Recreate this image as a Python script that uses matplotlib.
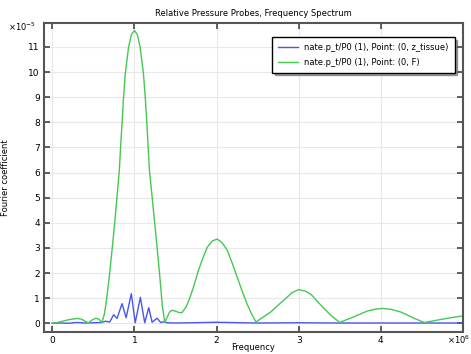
import matplotlib
matplotlib.use("Agg")
import matplotlib.pyplot as plt

# frequency in units of 1e6, coefficient in units of 1e-5
green_freq = [0.00, 0.05, 0.10, 0.15, 0.20, 0.25, 0.31, 0.36, 0.40, 0.44, 0.48, 0.53, 0.57,
              0.605, 0.634, 0.655, 0.695, 0.728, 0.76, 0.789, 0.817, 0.832, 0.85, 0.866, 0.89,
              0.93, 0.965, 1.00, 1.035, 1.07, 1.11, 1.135, 1.152, 1.168, 1.183, 1.216, 1.248,
              1.28, 1.31, 1.338, 1.356, 1.37, 1.40, 1.43, 1.46, 1.50, 1.55, 1.58, 1.63, 1.68,
              1.73, 1.78, 1.84, 1.89, 1.95, 2.01, 2.07, 2.13, 2.19, 2.25, 2.31, 2.37, 2.43,
              2.48, 2.57, 2.66, 2.75, 2.84, 2.92, 3.00, 3.08, 3.15, 3.27, 3.39, 3.50, 3.58,
              3.67, 3.75, 3.84, 3.93, 4.02, 4.13, 4.24, 4.33, 4.41, 4.53, 4.63, 4.73, 4.85,
              4.95, 5.02]
green_coef = [0.00, 0.02, 0.06, 0.10, 0.14, 0.17, 0.19, 0.16, 0.08, 0.01, 0.12, 0.20, 0.16,
              0.03, 0.35, 0.78, 1.85, 2.91, 3.97, 5.03, 6.10, 7.00, 7.95, 8.88, 9.95,
              11.0, 11.5, 11.65, 11.5, 11.0, 9.95, 8.88, 7.95, 7.00, 6.10, 5.03, 3.97,
              2.91, 1.85, 0.78, 0.35, 0.04, 0.25, 0.45, 0.52, 0.48, 0.42, 0.43, 0.65, 1.05,
              1.55, 2.11, 2.65, 3.04, 3.28, 3.35, 3.20, 2.91, 2.40, 1.85, 1.30, 0.78, 0.35,
              0.05, 0.25, 0.45, 0.72, 0.98, 1.22, 1.34, 1.28, 1.15, 0.72, 0.32, 0.03, 0.14,
              0.25, 0.37, 0.49, 0.56, 0.59, 0.55, 0.45, 0.32, 0.19, 0.03, 0.09, 0.15, 0.22,
              0.27, 0.28]

blue_freq = [0.00, 0.10, 0.20, 0.30, 0.40, 0.50, 0.60, 0.65, 0.70, 0.748, 0.789, 0.85, 0.90,
             0.963, 1.01, 1.073, 1.126, 1.175, 1.216, 1.277, 1.32, 1.36, 1.40, 1.50, 1.70,
             2.00, 2.30, 2.50, 3.00, 3.50, 4.00, 4.50, 5.02]
blue_coef = [0.00, 0.01, 0.00, 0.03, 0.01, 0.02, 0.03, 0.08, 0.05, 0.34, 0.19, 0.78, 0.22,
             1.18, 0.02, 1.03, 0.02, 0.62, 0.04, 0.20, 0.03, 0.06, 0.02, 0.01, 0.02,
             0.04, 0.02, 0.01, 0.02, 0.01, 0.01, 0.01, 0.01]

labels = ["nate.p_t/P0 (1), Point: (0, z_tissue)", "nate.p_t/P0 (1), Point: (0, F)"]
y_ticks = list(range(0, 12))
x_ticks = [0, 1, 2, 3, 4]

fig = plt.figure(figsize=(4.71, 3.54), dpi=100)
ax = fig.add_axes([0.0934, 0.062, 0.8896, 0.873])

ax.plot(blue_freq, blue_coef, color="#4657ee", lw=1.0, label=labels[0])
ax.plot(green_freq, green_coef, color="#45c850", lw=1.0, label=labels[1])

ax.set_xlim(-0.1, 5.0)
ax.set_ylim(-0.35, 11.95)
ax.set_xticks(x_ticks)
ax.set_yticks(y_ticks)
ax.grid(True, color="#e8e8e8", lw=0.8)
ax.set_axisbelow(True)
ax.tick_params(direction="in", top=True, right=True, length=4, width=1.2,
               labelsize=6.5, color="#444444", pad=3)
for s in ax.spines.values():
    s.set_color("#555555")
    s.set_linewidth(1.5)

ax.set_title("Relative Pressure Probes, Frequency Spectrum", fontsize=6, pad=5)
ax.set_xlabel("Frequency", fontsize=6)
ax.set_ylabel("Fourier coefficient", fontsize=6)
ax.xaxis.set_label_coords(0.5, -0.034)
ax.yaxis.set_label_coords(-0.08, 0.5)

fig.text(0.018, 1 - 27 / 354, r"$\times10^{-5}$", fontsize=6, va="center")
fig.text(0.998, 1 - 340 / 354, r"$\times10^{6}$", fontsize=6, va="center", ha="right")

leg = ax.legend(loc="upper right", bbox_to_anchor=(0.99, 0.968), fontsize=6,
                fancybox=False, shadow=True, framealpha=1, edgecolor="black",
                handlelength=2.4, borderpad=0.7, labelspacing=0.7)
leg.get_frame().set_linewidth(1.0)

fig.savefig("out.png", dpi=100)
